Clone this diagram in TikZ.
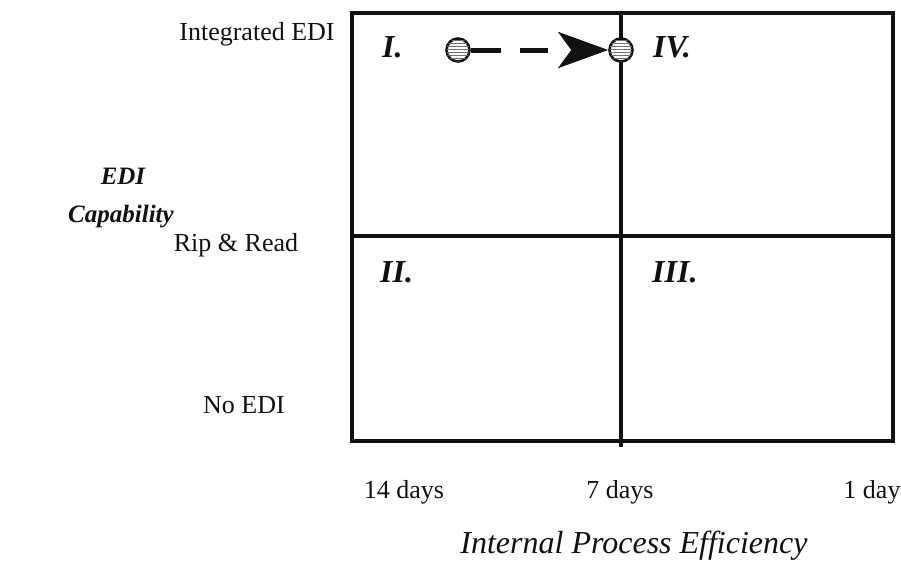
\documentclass[tikz,border=0pt]{standalone}
\usepackage{fontspec}
\setmainfont{Liberation Serif}
\usetikzlibrary{arrows.meta, positioning, patterns}
\definecolor{mink}{HTML}{111111}
\tikzset{
  axlbl/.style={font=\fontsize{26}{29}\selectfont, text=mink, inner sep=0pt, anchor=base},
  sidelbl/.style={font=\fontsize{25}{28}\selectfont\bfseries\itshape, text=mink, inner sep=0pt, anchor=base},
  quad/.style={font=\fontsize{32}{35}\selectfont\bfseries\itshape, text=mink, inner sep=0pt, anchor=base west},
  ttl/.style={font=\fontsize{32}{35}\selectfont\itshape, text=mink, inner sep=0pt, anchor=base},
  dot/.style={circle, draw=mink, line width=2.6pt, minimum size=23pt, inner sep=0pt,
              fill=white, postaction={pattern=horizontal lines, pattern color=mink!60}},
  qline/.style={draw=mink, line width=3.6pt},
  move/.style={-{Stealth[length=50pt, width=36pt, inset=13pt]}, mink, line width=5pt,
               dash pattern=on 30pt off 19pt on 28pt off 60pt},
}
\begin{document}
\begin{tikzpicture}[x=1pt, y=-1pt]
  \useasboundingbox (0,0) rectangle (901,563);
  % quadrants
  \draw[qline] (352,13) rectangle (893,441);
  \draw[qline] (352,236) -- (893,236);
  \draw[qline] (621,13) -- (621,447);
  \node[quad] (q1) at (382,57) {I.};
  \node[quad] (q4) at (653,57) {IV.};
  \node[quad] (q2) at (380,282) {II.};
  \node[quad] (q3) at (652,282) {III.};

  % EDI levels
  \node[axlbl] (integ) at (257,40) {Integrated EDI};
  \node[axlbl] (rip) at (236,251) {Rip \& Read};
  \node[axlbl] (noedi) at (244,413) {No EDI};
  \node[sidelbl] (edi) at (123,184) {EDI};
  \node[sidelbl] (capab) at (121,222) {Capability};

  % efficiency
  \node[axlbl] (d14) at (404,498) {14 days};
  \node[axlbl] (d7) at (620,498) {7 days};
  \node[axlbl] (d1) at (872,498) {1 day};
  \node[ttl] (eff) at (634,553) {Internal Process Efficiency};

  % move from I. to IV.
  \node[dot] (from) at (458,50) {};
  \node[dot] (to) at (621,50) {};
  \draw[move] (from) -- (to);
\end{tikzpicture}
\end{document}
